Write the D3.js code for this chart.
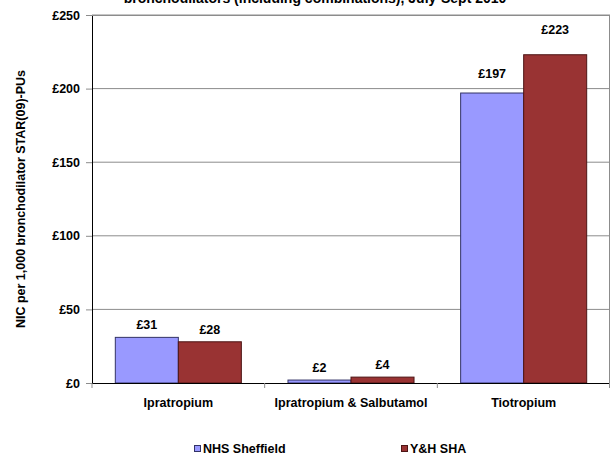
<!DOCTYPE html>
<html>
<head>
<meta charset="utf-8">
<script src="https://cdn.jsdelivr.net/npm/d3@7"></script>
<style>
  body { margin: 0; background: #fff; }
  text { font-family: Arial, "Liberation Sans", sans-serif; font-weight: bold; fill: #000; }
</style>
</head>
<body>
<svg id="chart" width="611" height="456"></svg>
<script>
// data
const categories = ['Ipratropium', 'Ipratropium & Salbutamol', 'Tiotropium'];
const seriesNames = ['NHS Sheffield', 'Y&H SHA'];
const nhsSheffield = [31, 2, 197];
const yhSha = [28, 4, 223];
const yTicks = [0, 50, 100, 150, 200, 250];
const chartTitle = 'bronchodilators (including combinations), July-Sept 2010';
const yTitle = 'NIC per 1,000 bronchodilator STAR(09)-PUs';

const colors = ['#9999ff', '#993333'];
const strokes = ['#333366', '#4d1515'];
// label lift above bar top (px), the Tiotropium ones sit higher in the original
const labelLift = { 'Tiotropium': [15, 21] };

const svg = d3.select('#chart');
const margin = { left: 92, right: 1, top: 15, bottom: 73 };
const width = 611 - margin.left - margin.right;
const height = 456 - margin.top - margin.bottom;

const g = svg.append('g').attr('transform', `translate(${margin.left},${margin.top})`);

const x0 = d3.scaleBand().domain(categories).range([0, width])
    .paddingInner(0.27).paddingOuter(0.135);
const x1 = d3.scaleBand().domain(seriesNames).range([0, x0.bandwidth()]);
const y = d3.scaleLinear().domain([0, 250]).range([height, 0]);

// gridlines
g.append('g')
    .selectAll('line')
    .data(yTicks.filter(d => d > 0))
    .enter()
    .append('line')
    .attr('x1', 0).attr('x2', width)
    .attr('y1', d => y(d)).attr('y2', d => y(d))
    .attr('stroke', '#8c8c8c').attr('stroke-width', 1);

// right border
g.append('line')
    .attr('x1', width - 0.5).attr('x2', width - 0.5)
    .attr('y1', 0).attr('y2', height)
    .attr('stroke', '#8c8c8c');

// bars
const rows = categories.map((c, i) => ({ cat: c, vals: [nhsSheffield[i], yhSha[i]] }));
const groups = g.selectAll('.grp')
    .data(rows)
    .enter()
    .append('g')
    .attr('transform', d => `translate(${x0(d.cat)},0)`);

groups.selectAll('rect')
    .data(d => d.vals.map((v, k) => ({ v, k, cat: d.cat })))
    .enter()
    .append('rect')
    .attr('x', d => x1(seriesNames[d.k]))
    .attr('y', d => y(d.v))
    .attr('width', x1.bandwidth())
    .attr('height', d => height - y(d.v))
    .attr('fill', d => colors[d.k])
    .attr('stroke', d => strokes[d.k])
    .attr('stroke-width', 1);

groups.selectAll('.lbl')
    .data(d => d.vals.map((v, k) => ({ v, k, cat: d.cat })))
    .enter()
    .append('text')
    .attr('x', d => x1(seriesNames[d.k]) + x1.bandwidth() / 2)
    .attr('y', d => y(d.v) - (labelLift[d.cat] ? labelLift[d.cat][d.k] : 8))
    .attr('text-anchor', 'middle')
    .style('font-size', '12.5px')
    .text(d => '£' + d.v);

// y axis
const yAxis = g.append('g')
    .call(d3.axisLeft(y).tickValues(yTicks).tickSize(6).tickPadding(6).tickFormat(d => '£' + d));
yAxis.select('.domain').attr('stroke', '#000').attr('d', `M0.5,0V${height}`);
yAxis.selectAll('.tick line').attr('stroke', '#8c8c8c');
yAxis.selectAll('.tick text').style('font-size', '12.5px')
    .style('font-family', 'Arial, "Liberation Sans", sans-serif');

// top border
g.append('line')
    .attr('x1', -6).attr('x2', width)
    .attr('y1', 0.5).attr('y2', 0.5)
    .attr('stroke', '#8c8c8c');

// x axis
const xAxis = g.append('g').attr('transform', `translate(0,${height})`)
    .call(d3.axisBottom(x0).tickSize(0).tickPadding(15));
xAxis.select('.domain').remove();
xAxis.selectAll('.tick text').style('font-size', '12.5px')
    .style('font-family', 'Arial, "Liberation Sans", sans-serif');
g.append('line')
    .attr('x1', 0).attr('x2', width)
    .attr('y1', height + 0.5).attr('y2', height + 0.5)
    .attr('stroke', '#000');
const step = x0.step();
g.append('g').selectAll('line')
    .data(d3.range(categories.length + 1))
    .enter()
    .append('line')
    .attr('x1', i => Math.min(i * step, width - 0.5)).attr('x2', i => Math.min(i * step, width - 0.5))
    .attr('y1', height).attr('y2', height + 5)
    .attr('stroke', '#8c8c8c');

// titles
svg.append('text')
    .attr('x', 315).attr('y', 3)
    .attr('text-anchor', 'middle')
    .style('font-size', '14px')
    .text(chartTitle);

svg.append('text')
    .attr('transform', `translate(25,${margin.top + height / 2}) rotate(-90)`)
    .attr('text-anchor', 'middle')
    .style('font-size', '12.5px')
    .text(yTitle);

// legend
const legendX = [194, 401];
const legend = svg.selectAll('.leg')
    .data(seriesNames)
    .enter()
    .append('g')
    .attr('transform', (d, i) => `translate(${legendX[i]},445)`);
legend.append('rect')
    .attr('x', 0.5).attr('y', 0.5).attr('width', 6).attr('height', 6)
    .attr('fill', (d, i) => colors[i])
    .attr('stroke', (d, i) => strokes[i]);
legend.append('text')
    .attr('x', 9).attr('y', 7.5)
    .style('font-size', '12.5px')
    .text(d => d);
</script>
</body>
</html>
